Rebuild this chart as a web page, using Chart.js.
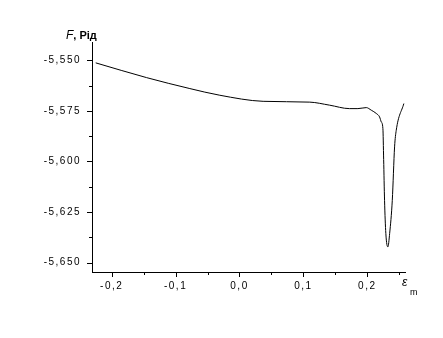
<!DOCTYPE html>
<html>
<head>
<meta charset="utf-8">
<script src="https://cdn.jsdelivr.net/npm/chart.js@4"></script>
<style>
  html, body { margin: 0; padding: 0; background: #fff; }
</style>
</head>
<body>
<canvas id="grafico" width="443" height="338"></canvas>
<script>
// dados
let eps = [-0.225, -0.1453, -0.0777, -0.0308, 0.037, 0.11, 0.141, 0.172, 0.1853, 0.1984, 0.2063, 0.2141, 0.2192, 0.2219, 0.2244, 0.2256, 0.227, 0.229, 0.2322, 0.235, 0.2391, 0.2427, 0.2453, 0.2572];
let F = [-5.5513, -5.5586, -5.5640, -5.5673, -5.5703, -5.5707, -5.5722, -5.5739, -5.5739, -5.5734, -5.5747, -5.5763, -5.5780, -5.5805, -5.5837, -5.5990, -5.6192, -5.6355, -5.6422, -5.6355, -5.6192, -5.5928, -5.5846, -5.5714];

let xTicks = [-0.2, -0.1, 0.0, 0.1, 0.2];
let xMinor = [-0.15, -0.05, 0.05, 0.15, 0.25];
let yTicks = [-5.55, -5.575, -5.6, -5.625, -5.65];
let yMinor = [-5.5625, -5.5875, -5.6125, -5.6375];

let pontos = eps.map((e, i) => ({ x: e, y: F[i] }));

// espaçamento das letras (o canvas perde isso quando é redimensionado)
let espaco = {
  id: "espaco",
  beforeLayout(chart) { chart.ctx.letterSpacing = "1.5px"; },
  beforeDraw(chart) { chart.ctx.letterSpacing = "1.5px"; }
};

// TRACINHOS DOS EIXOS + TEXTOS
let extras = {
  id: "extras",
  afterDraw(chart) {
    let c = chart.ctx;
    let sx = chart.scales.x, sy = chart.scales.y;
    let a = chart.chartArea;
    c.save();
    c.letterSpacing = "0px";
    c.strokeStyle = "#000";
    c.lineWidth = 1;
    c.beginPath();
    xTicks.forEach(v => { let p = Math.round(sx.getPixelForValue(v)) + 0.5; c.moveTo(p, a.bottom); c.lineTo(p, a.bottom + 5); });
    xMinor.forEach(v => { let p = Math.round(sx.getPixelForValue(v)) + 0.5; c.moveTo(p, a.bottom); c.lineTo(p, a.bottom + 3); });
    yTicks.forEach(v => { let p = Math.round(sy.getPixelForValue(v)) + 0.5; c.moveTo(a.left, p); c.lineTo(a.left - 5, p); });
    yMinor.forEach(v => { let p = Math.round(sy.getPixelForValue(v)) + 0.5; c.moveTo(a.left, p); c.lineTo(a.left - 3, p); });
    c.stroke();

    c.fillStyle = "#000";
    c.textBaseline = "alphabetic";
    c.font = "italic 12px 'Liberation Sans', Arial";
    c.fillText("F", 66, 39);
    let w = c.measureText("F").width;
    c.font = "bold 11px 'Liberation Sans', Arial";
    c.fillText(", Рід", 66 + w, 39);

    c.font = "italic 12px 'Liberation Sans', Arial";
    c.fillText("ε", 402, 286);
    c.font = "9px 'Liberation Sans', Arial";
    c.fillText("m", 410, 295);
    c.restore();
  }
};

let ctx = document.getElementById("grafico").getContext("2d");

new Chart(ctx, {
  type: "line",
  data: {
    datasets: [{
      data: pontos,
      borderColor: "#000",
      borderWidth: 1,
      pointRadius: 0,
      fill: false,
      cubicInterpolationMode: "monotone"
    }]
  },
  options: {
    responsive: false,
    animation: false,
    layout: { padding: { top: 42, right: 38, left: 0, bottom: 0 } },
    plugins: {
      legend: { display: false },
      tooltip: { enabled: false }
    },
    scales: {
      x: {
        type: "linear",
        min: -0.2308,
        max: 0.259,
        afterBuildTicks: s => { s.ticks = xTicks.map(v => ({ value: v })); },
        afterFit: s => { s.height = 66; },
        grid: { display: false, drawTicks: false },
        border: { display: true, color: "#000", width: 1 },
        ticks: {
          color: "#000",
          padding: 8,
          maxRotation: 0,
          font: { family: "'Liberation Sans', Arial", size: 10 },
          callback: v => v.toFixed(1).replace(".", ",")
        }
      },
      y: {
        type: "linear",
        min: -5.6546,
        max: -5.5410,
        afterBuildTicks: s => { s.ticks = yTicks.map(v => ({ value: v })); },
        afterFit: s => { s.width = 92; },
        grid: { display: false, drawTicks: false },
        border: { display: true, color: "#000", width: 1 },
        ticks: {
          color: "#000",
          padding: 11,
          font: { family: "'Liberation Sans', Arial", size: 10 },
          callback: v => v.toFixed(3).replace(".", ",")
        }
      }
    }
  },
  plugins: [espaco, extras]
});
</script>
</body>
</html>
